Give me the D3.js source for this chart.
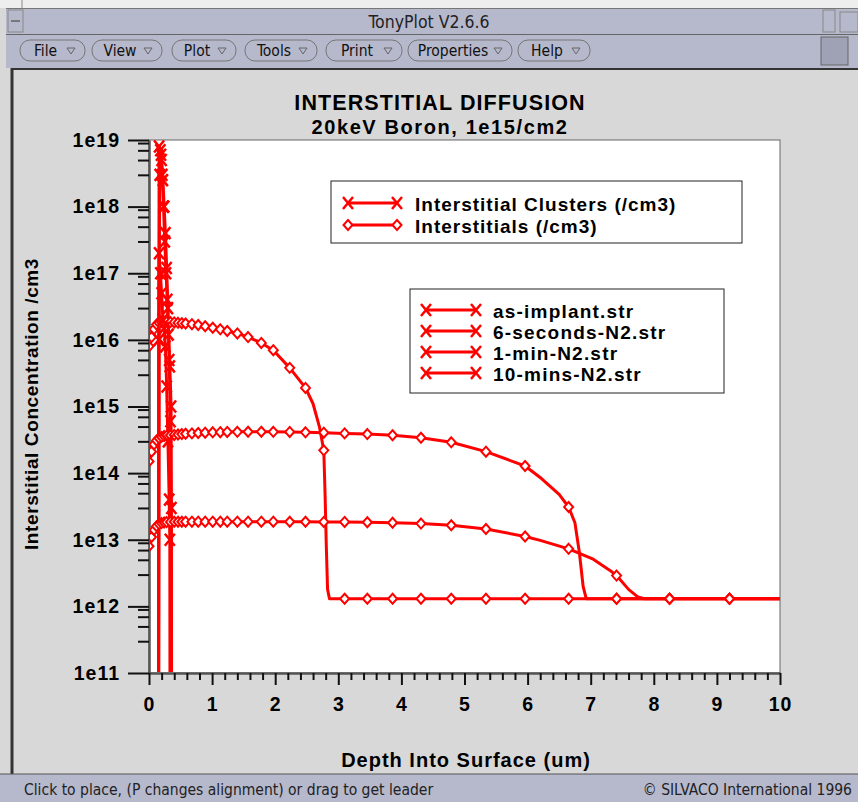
<!doctype html>
<html>
  <head>
    <script src="https://cdn.jsdelivr.net/npm/d3@7"></script>
    <style>
      body { margin: 0; background: #d8d8d8; }
      svg { display: block; }
    </style>
  </head>
  <body>
    <svg id="win" width="858" height="802"></svg>

    <script>
      // tick labels
      var xTicks = [0, 1, 2, 3, 4, 5, 6, 7, 8, 9, 10];
      var yTicks = [1e11, 1e12, 1e13, 1e14, 1e15, 1e16, 1e17, 1e18, 1e19];
      var yMinorSteps = [3, 5, 7, 9];

      // depths (um) where TonyPlot drew a diamond on the interstitial curves
      var markerDepths = [0, 0.04, 0.08, 0.12, 0.16, 0.2, 0.24, 0.28, 0.34, 0.4, 0.46, 0.52, 0.58,
        0.68, 0.78, 0.89, 1.01, 1.13, 1.24, 1.4, 1.57, 1.78, 1.97, 2.23, 2.48, 2.77,
        3.1, 3.46, 3.86, 4.31, 4.79, 5.34, 5.96, 6.65, 7.41, 8.25, 9.2];

      // interstitials (/cm3), [depth, conc]
      var intersA = [[0, 8e15], [0.04, 1.1e16], [0.08, 1.45e16], [0.12, 1.7e16], [0.16, 1.8e16],
        [0.2, 1.85e16], [0.24, 1.87e16], [0.28, 1.87e16], [0.34, 1.85e16], [0.4, 1.83e16],
        [0.46, 1.8e16], [0.52, 1.78e16], [0.58, 1.76e16], [0.68, 1.72e16], [0.78, 1.67e16],
        [0.89, 1.6e16], [1.01, 1.52e16], [1.13, 1.44e16], [1.24, 1.36e16], [1.4, 1.25e16],
        [1.57, 1.1e16], [1.78, 9e15], [1.97, 7e15], [2.23, 3.8e15], [2.48, 1.9e15], [2.6, 1.1e15],
        [2.7, 5e14], [2.77, 2.2e14], [2.79, 5e13], [2.81, 8e12], [2.83, 1.8e12], [2.86, 1.3e12],
        [3.1, 1.3e12], [3.46, 1.3e12], [3.86, 1.3e12], [4.31, 1.3e12], [4.79, 1.3e12],
        [5.34, 1.3e12], [5.96, 1.3e12], [6.65, 1.3e12], [7.41, 1.3e12], [8.25, 1.3e12],
        [9.2, 1.3e12], [10, 1.3e12]];
      var intersB = [[0, 1.5e14], [0.04, 2.1e14], [0.08, 2.7e14], [0.12, 3.1e14], [0.16, 3.35e14],
        [0.2, 3.5e14], [0.24, 3.6e14], [0.28, 3.65e14], [0.34, 3.7e14], [0.4, 3.75e14],
        [0.46, 3.8e14], [0.52, 3.85e14], [0.58, 3.9e14], [0.68, 3.95e14], [0.78, 4e14],
        [0.89, 4.05e14], [1.01, 4.1e14], [1.13, 4.12e14], [1.24, 4.15e14], [1.4, 4.17e14],
        [1.57, 4.18e14], [1.78, 4.18e14], [1.97, 4.17e14], [2.23, 4.15e14], [2.48, 4.1e14],
        [2.77, 4.05e14], [3.1, 3.95e14], [3.46, 3.85e14], [3.86, 3.7e14], [4.31, 3.4e14],
        [4.79, 2.9e14], [5.34, 2.1e14], [5.96, 1.28e14], [6.22, 8.3e13], [6.5, 4.8e13],
        [6.65, 3.1e13], [6.75, 1.8e13], [6.82, 6.5e12], [6.88, 2e12], [6.93, 1.3e12],
        [7.41, 1.3e12], [8.25, 1.3e12], [9.2, 1.3e12], [10, 1.3e12]];
      var intersC = [[0, 8e12], [0.04, 1.1e13], [0.08, 1.4e13], [0.12, 1.6e13], [0.16, 1.72e13],
        [0.2, 1.78e13], [0.24, 1.82e13], [0.28, 1.84e13], [0.34, 1.85e13], [0.4, 1.86e13],
        [0.46, 1.86e13], [0.52, 1.86e13], [0.58, 1.87e13], [0.68, 1.87e13], [0.78, 1.87e13],
        [0.89, 1.87e13], [1.01, 1.87e13], [1.13, 1.87e13], [1.24, 1.87e13], [1.4, 1.87e13],
        [1.57, 1.87e13], [1.78, 1.87e13], [1.97, 1.87e13], [2.23, 1.86e13], [2.48, 1.86e13],
        [2.77, 1.85e13], [3.1, 1.85e13], [3.46, 1.83e13], [3.86, 1.8e13], [4.31, 1.75e13],
        [4.79, 1.65e13], [5.34, 1.45e13], [5.96, 1.12e13], [6.2, 9.8e12], [6.65, 7.3e12],
        [7.04, 5.1e12], [7.3, 3.5e12], [7.41, 2.9e12], [7.6, 1.8e12], [7.75, 1.38e12],
        [7.85, 1.3e12], [8.25, 1.3e12], [9.2, 1.3e12], [10, 1.3e12]];

      // interstitial clusters (/cm3), [depth, conc]; zero outside 0.15-0.355 um
      var clustersA = [[0.15, 1e8], [0.16, 8e18], [0.18, 7e18], [0.2, 5e18], [0.22, 2.5e18],
        [0.24, 1e18], [0.26, 4e17], [0.28, 1.2e17], [0.3, 3e16], [0.32, 5e15], [0.34, 6e14],
        [0.355, 3e13], [0.36, 1e8]];
      var clustersB = [[0.15, 1e8], [0.155, 1e16], [0.17, 3e18], [0.19, 6e18], [0.21, 3e18],
        [0.23, 1e18], [0.25, 3e17], [0.27, 1e17], [0.29, 4e16], [0.31, 1.2e16], [0.33, 4e15],
        [0.35, 1e15], [0.355, 1e8]];
      var clustersC = [[0.15, 1e8], [0.16, 2e17], [0.18, 1e17], [0.2, 5e16], [0.22, 2e16],
        [0.24, 1.5e16], [0.26, 8e15], [0.28, 2e15], [0.3, 3e14], [0.32, 4e13], [0.33, 1e13],
        [0.335, 1e8]];

      var quantityNames = ["Interstitial Clusters (/cm3)", "Interstitials (/cm3)"];
      var fileNames = ["as-implant.str", "6-seconds-N2.str", "1-min-N2.str", "10-mins-N2.str"];

      var RED = "#ff0000";
      var LAV = "#b6b8cc";
      var uiFont = "'DejaVu Sans Condensed', 'DejaVu Sans', sans-serif";
      var plotFont = "'Liberation Sans', Arial, sans-serif";

      var svg = d3.select("#win");

      // ---- window frame ----
      svg.append("rect").attr("width", 858).attr("height", 802).attr("fill", "#d8d8d8");
      svg.append("rect").attr("width", 858).attr("height", 8).attr("fill", "#eeeeee");
      svg.append("line").attr("x1", 22).attr("x2", 22).attr("y1", 0).attr("y2", 8)
        .attr("stroke", "#888");
      svg.append("rect").attr("x", 6).attr("y", 8).attr("width", 852).attr("height", 60)
        .attr("fill", LAV);
      svg.append("line").attr("x1", 6).attr("x2", 858).attr("y1", 8.5).attr("y2", 8.5)
        .attr("stroke", "#777");
      svg.append("line").attr("x1", 6).attr("x2", 858).attr("y1", 34.5).attr("y2", 34.5)
        .attr("stroke", "#666");
      svg.append("rect").attr("x", 8).attr("y", 10).attr("width", 15).attr("height", 22)
        .attr("fill", "none").attr("stroke", "#888");
      svg.append("line").attr("x1", 11).attr("x2", 20).attr("y1", 21).attr("y2", 21)
        .attr("stroke", "#777").attr("stroke-width", 2);
      svg.append("rect").attr("x", 823).attr("y", 10).attr("width", 12).attr("height", 22)
        .attr("fill", "none").attr("stroke", "#888");
      svg.append("rect").attr("x", 840).attr("y", 12).attr("width", 18).attr("height", 20)
        .attr("fill", "none").attr("stroke", "#888");
      svg.append("text").attr("x", 429).attr("y", 28).attr("text-anchor", "middle")
        .attr("font-family", uiFont).attr("font-size", 17.5).attr("fill", "#222")
        .text("TonyPlot V2.6.6");

      // menu buttons
      var menus = [["File", 20, 65], ["View", 92, 70], ["Plot", 172, 64], ["Tools", 245, 72],
        ["Print", 326, 76], ["Properties", 408, 104], ["Help", 518, 72]];
      var mb = svg.append("g");
      menus.forEach(function(m) {
        mb.append("rect").attr("x", m[1]).attr("y", 40).attr("width", m[2]).attr("height", 21)
          .attr("rx", 10).attr("fill", LAV).attr("stroke", "#777");
        mb.append("text").attr("x", m[1] + m[2] / 2 - 7).attr("y", 56)
          .attr("text-anchor", "middle").attr("font-family", uiFont).attr("font-size", 15.5)
          .attr("fill", "#111").text(m[0]);
        mb.append("path")
          .attr("d", "M" + (m[1] + m[2] - 18) + ",48 l8,0 l-4,6 z")
          .attr("fill", "none").attr("stroke", "#666");
      });
      svg.append("rect").attr("x", 821).attr("y", 37).attr("width", 27).attr("height", 28)
        .attr("fill", "#9fa1b4").attr("stroke", "#666");

      // main panel
      svg.append("rect").attr("x", 10).attr("y", 68).attr("width", 848).attr("height", 706)
        .attr("fill", "#d8d8d8");
      svg.append("line").attr("x1", 12).attr("x2", 858).attr("y1", 69).attr("y2", 69)
        .attr("stroke", "#333").attr("stroke-width", 2);
      svg.append("line").attr("x1", 12).attr("x2", 12).attr("y1", 68).attr("y2", 774)
        .attr("stroke", "#333").attr("stroke-width", 3);

      // status bar
      svg.append("rect").attr("x", 0).attr("y", 774).attr("width", 858).attr("height", 28)
        .attr("fill", LAV);
      svg.append("line").attr("x1", 0).attr("x2", 858).attr("y1", 774).attr("y2", 774)
        .attr("stroke", "#555");
      svg.append("text").attr("x", 24).attr("y", 795).attr("font-family", uiFont)
        .attr("font-size", 15.5).attr("fill", "#222")
        .text("Click to place, (P changes alignment) or drag to get leader");
      svg.append("text").attr("x", 852).attr("y", 795).attr("text-anchor", "end")
        .attr("font-family", uiFont).attr("font-size", 15.5).attr("fill", "#222")
        .text("\u00a9 SILVACO International 1996");

      // ---- plot ----
      var plotL = 149, plotR = 780, plotT = 140, plotB = 673;

      var x = d3.scaleLinear().domain([0, 10]).range([plotL, plotR]);
      var y = d3.scaleLog().domain([1e11, 1e19]).range([plotB, plotT]);

      svg.append("rect").attr("x", plotL).attr("y", plotT).attr("width", plotR - plotL)
        .attr("height", plotB - plotT).attr("fill", "#fff").attr("stroke", "#666");

      svg.append("text").attr("x", 440).attr("y", 110).attr("text-anchor", "middle")
        .attr("font-family", plotFont).attr("font-weight", "bold").attr("font-size", 21.5)
        .attr("letter-spacing", 1.1).text("INTERSTITIAL DIFFUSION");
      svg.append("text").attr("x", 440).attr("y", 134).attr("text-anchor", "middle")
        .attr("font-family", plotFont).attr("font-weight", "bold").attr("font-size", 20)
        .attr("letter-spacing", 1.6).text("20keV Boron, 1e15/cm2");

      // y axis: majors with labels, minors at 3,5,7,9 per decade
      var yMinor = [];
      yTicks.slice(0, -1).forEach(function(t) {
        yMinorSteps.forEach(function(s) { yMinor.push(t * s); });
      });
      var yAxis = svg.append("g").attr("transform", "translate(" + plotL + ",0)")
        .call(d3.axisLeft(y).tickValues(yTicks).tickSize(21).tickSizeOuter(0).tickPadding(8)
          .tickFormat(function(d) { return "1e" + Math.round(Math.log10(d)); }));
      svg.append("g").attr("transform", "translate(" + plotL + ",0)")
        .call(d3.axisLeft(y).tickValues(yMinor).tickSize(11).tickFormat(""))
        .select(".domain").remove();

      var xMinor = d3.range(0, 50).map(function(i) { return i / 5; })
        .filter(function(v) { return xTicks.indexOf(v) < 0; });
      var xAxis = svg.append("g").attr("transform", "translate(0," + plotB + ")")
        .call(d3.axisBottom(x).tickValues(xTicks).tickSize(12).tickSizeOuter(0).tickPadding(12)
          .tickFormat(d3.format("d")));
      svg.append("g").attr("transform", "translate(0," + plotB + ")")
        .call(d3.axisBottom(x).tickValues(xMinor).tickSize(7).tickFormat(""))
        .select(".domain").remove();

      svg.selectAll(".tick line").attr("stroke", "#111").attr("stroke-width", 2);
      svg.selectAll(".domain").attr("stroke", "#555").attr("stroke-width", 2.5);
      [yAxis, xAxis].forEach(function(a) {
        a.selectAll("text").attr("font-family", plotFont).attr("font-weight", "bold")
          .attr("font-size", 19.5).attr("letter-spacing", 1).attr("fill", "#000");
      });

      svg.append("text")
        .attr("transform", "translate(38,404) rotate(-90)").attr("text-anchor", "middle")
        .attr("font-family", plotFont).attr("font-weight", "bold").attr("font-size", 19)
        .attr("letter-spacing", 0.6).text("Interstitial Concentration /cm3");
      svg.append("text").attr("x", 466).attr("y", 767).attr("text-anchor", "middle")
        .attr("font-family", plotFont).attr("font-weight", "bold").attr("font-size", 20)
        .attr("letter-spacing", 1).text("Depth Into Surface (um)");

      // curves
      svg.append("clipPath").attr("id", "clip").append("rect")
        .attr("x", plotL + 1).attr("y", plotT).attr("width", plotR - plotL - 1)
        .attr("height", plotB - plotT - 1);
      var plot = svg.append("g").attr("clip-path", "url(#clip)");

      var line = d3.line().x(function(d) { return x(d[0]); }).y(function(d) { return y(d[1]); });

      function diamond(g, cx, cy) {
        g.append("path")
          .attr("d", "M" + cx + "," + (cy - 5) + "L" + (cx + 4.5) + "," + cy + "L" + cx + "," +
            (cy + 5) + "L" + (cx - 4.5) + "," + cy + "Z")
          .attr("fill", "#fff").attr("stroke", RED).attr("stroke-width", 2);
      }
      function cross(g, cx, cy) {
        g.append("path")
          .attr("d", "M" + (cx - 5) + "," + (cy - 6) + "L" + (cx + 5) + "," + (cy + 6) +
            "M" + (cx + 5) + "," + (cy - 6) + "L" + (cx - 5) + "," + (cy + 6))
          .attr("fill", "none").attr("stroke", RED).attr("stroke-width", 2.5);
      }

      [intersA, intersB, intersC].forEach(function(s) {
        plot.append("path").datum(s).attr("d", line).attr("fill", "none")
          .attr("stroke", RED).attr("stroke-width", 3).attr("stroke-linejoin", "round");
      });
      [clustersA, clustersB, clustersC].forEach(function(s) {
        plot.append("path").datum(s).attr("d", line).attr("fill", "none")
          .attr("stroke", RED).attr("stroke-width", 3);
      });
      [intersA, intersB, intersC].forEach(function(s) {
        s.filter(function(d) { return markerDepths.indexOf(d[0]) >= 0; }).forEach(function(d) {
          diamond(plot, x(d[0]), y(d[1]));
        });
      });
      [clustersA, clustersB, clustersC].forEach(function(s) {
        s.slice(1, -1).forEach(function(d) { cross(plot, x(d[0]), y(d[1])); });
      });

      // legends
      var lg1 = svg.append("g");
      lg1.append("rect").attr("x", 331).attr("y", 181).attr("width", 411).attr("height", 62)
        .attr("fill", "#fff").attr("stroke", "#222");
      quantityNames.forEach(function(name, i) {
        var ly = 203 + i * 22;
        lg1.append("line").attr("x1", 348).attr("x2", 397).attr("y1", ly).attr("y2", ly)
          .attr("stroke", RED).attr("stroke-width", 3);
        if (i === 0) { cross(lg1, 348, ly); cross(lg1, 397, ly); }
        else { diamond(lg1, 348, ly); diamond(lg1, 397, ly); }
        lg1.append("text").attr("x", 415).attr("y", ly + 8).attr("font-family", plotFont)
          .attr("font-weight", "bold").attr("font-size", 19).attr("letter-spacing", 1)
          .text(name);
      });

      var lg2 = svg.append("g");
      lg2.append("rect").attr("x", 410).attr("y", 289).attr("width", 314).attr("height", 104)
        .attr("fill", "#fff").attr("stroke", "#222");
      fileNames.forEach(function(name, i) {
        var ly = 310 + i * 21;
        lg2.append("line").attr("x1", 426).attr("x2", 476).attr("y1", ly).attr("y2", ly)
          .attr("stroke", RED).attr("stroke-width", 3);
        cross(lg2, 426, ly); cross(lg2, 476, ly);
        lg2.append("text").attr("x", 493).attr("y", ly + 8).attr("font-family", plotFont)
          .attr("font-weight", "bold").attr("font-size", 19).attr("letter-spacing", 1.2)
          .text(name);
      });
    </script>
  </body>
</html>
